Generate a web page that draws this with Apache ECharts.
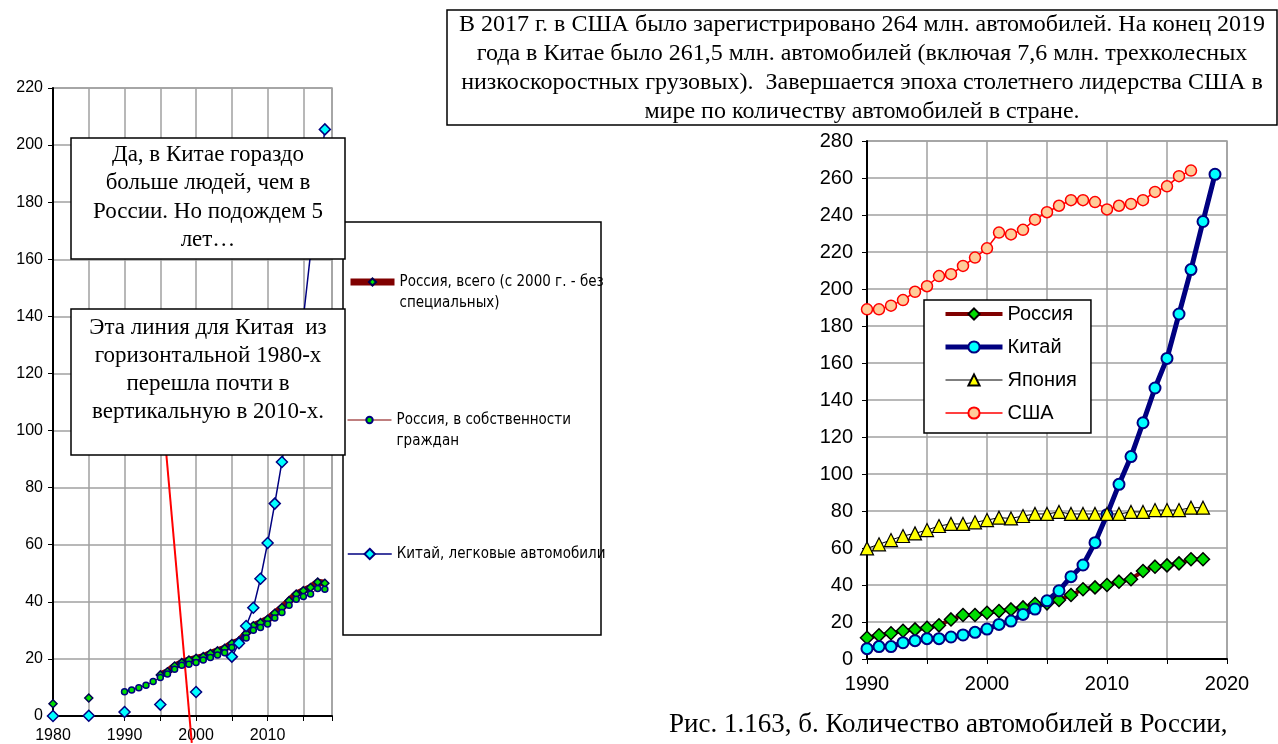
<!DOCTYPE html>
<html>
<head>
<meta charset="utf-8">
<script src="https://cdn.jsdelivr.net/npm/echarts@6/dist/echarts.min.js"></script>
<style>
  html, body { margin: 0; padding: 0; background: #fff; }
  #main { width: 1278px; height: 744px; }
</style>
</head>
<body>
<div id="main"></div>
<script>
// ---- left chart (1980-2018) ----
var leftYears = [1980, 1981, 1982, 1983, 1984, 1985, 1986, 1987, 1988, 1989,
  1990, 1991, 1992, 1993, 1994, 1995, 1996, 1997, 1998, 1999,
  2000, 2001, 2002, 2003, 2004, 2005, 2006, 2007, 2008, 2009,
  2010, 2011, 2012, 2013, 2014, 2015, 2016, 2017, 2018];
var ruTotal = [4.3, null, null, null, null, 6.3, null, null, null, null,
  null, null, null, null, null, 14.4, 15.5, 17.5, 18.7, 19.6,
  20.2, 20.8, 21.9, 22.8, 23.7, 25.4, 26.3, 28.9, 31.6, 32.7,
  33.9, 36.0, 38.0, 40.4, 42.7, 43.9, 45.0, 46.9, 46.5];
var ruOwn = [null, null, null, null, null, null, null, null, null, null,
  8.5, 9.1, 9.9, 10.8, 12.1, 13.5, 14.7, 16.4, 17.8, 18.1,
  18.7, 19.6, 20.5, 21.4, 22.2, 24.0, 25.1, 27.3, 30.0, 31.0,
  32.2, 34.3, 36.3, 38.8, 40.9, 41.9, 42.7, 44.7, 44.4];
var cnCars = [0, null, null, null, null, 0.1, null, null, null, null,
  1.4, null, null, null, null, 4.0, null, null, null, null,
  8.4, null, null, null, null, 20.8, 25.5, 31.5, 37.9, 48.1,
  60.6, 74.4, 89, 105, 123, 139.5, 162, 184, 205.5];
var trendX = [1995, 1999.4];
var trendY = [115.6, -9.4];

// ---- right chart (1990-2019) ----
var rightYears = [1990, 1991, 1992, 1993, 1994, 1995, 1996, 1997, 1998, 1999,
  2000, 2001, 2002, 2003, 2004, 2005, 2006, 2007, 2008, 2009,
  2010, 2011, 2012, 2013, 2014, 2015, 2016, 2017, 2018, 2019];
var ruR = [11.5, 12.8, 13.9, 15.3, 16.0, 16.9, 18.2, 21.4, 23.8, 23.8,
  25.0, 25.9, 26.8, 27.9, 29.7, 30.1, 31.9, 34.6, 37.7, 38.7,
  40.0, 41.8, 43.1, 47.6, 49.9, 50.6, 51.7, 53.9, 53.9, null];
var cnR = [5.6, 6.7, 6.7, 8.8, 9.9, 11, 11, 11.9, 13, 14.4,
  16.2, 18.7, 20.5, 24.1, 27, 31.5, 36.9, 44.5, 50.8, 62.9,
  78, 94.4, 109.4, 127.7, 146.5, 162.5, 186.5, 210.5, 236.5, 262];
var jpR = [59.8, 62, 64.3, 66.5, 67.9, 69.7, 71.9, 73, 73, 73.9,
  75.1, 76.4, 76, 77.3, 78.4, 78.4, 79.5, 78.4, 78.4, 78.4,
  78.4, 78.4, 79.5, 79.5, 80.5, 80.5, 80.5, 81.8, 81.8, null];
var usR = [189, 189, 191, 194, 198.5, 201.5, 207, 208, 212.5, 217,
  222, 230.5, 229.5, 232, 237.5, 241.5, 245, 248, 248, 247,
  243, 245, 246, 248, 252.5, 255.5, 261, 264, null, null];

var leftNames = ["Россия, всего (с 2000 г. - без специальных)", "Россия, в собственности граждан", "Китай, легковые автомобили"];
var leftLabels = ["Россия, всего (с 2000 г. - без\nспециальных)", "Россия, в собственности\nграждан", "Китай, легковые автомобили"];
var rightNames = ["Россия", "Китай", "Япония", "США"];

var topNote = "В 2017 г. в США было зарегистрировано 264 млн. автомобилей. На конец 2019\n" +
  "года в Китае было 261,5 млн. автомобилей (включая 7,6 млн. трехколесных\n" +
  "низкоскоростных грузовых).  Завершается эпоха столетнего лидерства США в\n" +
  "мире по количеству автомобилей в стране.";
var note1 = "Да, в Китае гораздо\nбольше людей, чем в\nРоссии. Но подождем 5\nлет…";
var note2 = "Эта линия для Китая  из\nгоризонтальной 1980-х\nперешла почти в\nвертикальную в 2010-х.";
var caption = "Рис. 1.163, б. Количество автомобилей в России,";

function pairs(xs, ys) {
  return xs.map(function (x, i) { return [x, ys[i]]; });
}

var SANS = "'Liberation Sans', Arial, sans-serif";
var NARROW = "'Liberation Sans Narrow', 'Arial Narrow', 'DejaVu Sans Condensed', sans-serif";
var SERIF = "'Liberation Serif', 'Times New Roman', serif";
var GRIDC = "#a0a0a0";

function decade(v) { return v % 10 === 0 ? String(v) : ""; }

// одна легенда на каждую строку, чтобы значок стоял у первой строки текста
function leftLegend(i, top, itemH, twoLines) {
  return {
    show: true,
    orient: "vertical",
    left: 347,
    top: top,
    padding: 0,
    itemWidth: 44,
    itemHeight: itemH,
    data: [leftNames[i]],
    formatter: function () { return (twoLines ? "\n" : "") + leftLabels[i]; },
    lineStyle: { width: "inherit" },
    textStyle: { fontFamily: NARROW, fontSize: 15, color: "#000", lineHeight: 21 }
  };
}

var myChart = echarts.init(document.getElementById("main"), null, { renderer: "canvas" });

var option = {
  animation: false,
  backgroundColor: "#fff",
  grid: [
    { left: 53, top: 88, width: 279, height: 629, show: true, borderColor: GRIDC, borderWidth: 1.5 },
    { left: 867, top: 141, width: 360, height: 518, show: true, borderColor: GRIDC, borderWidth: 1.5 }
  ],
  xAxis: [
    {
      type: "value", gridIndex: 0, min: 1980, max: 2019, interval: 5,
      axisLine: { lineStyle: { color: "#000", width: 2 } },
      axisTick: { show: true, length: 5, lineStyle: { color: "#000" } },
      axisLabel: { formatter: decade, fontFamily: SANS, fontSize: 16, color: "#000", margin: 12 },
      splitLine: { lineStyle: { color: GRIDC, width: 1.5 } }
    },
    {
      type: "value", gridIndex: 1, min: 1990, max: 2020, interval: 5,
      axisLine: { lineStyle: { color: "#000", width: 2 } },
      axisTick: { show: true, length: 5, lineStyle: { color: "#000" } },
      axisLabel: { formatter: decade, fontFamily: SANS, fontSize: 20, color: "#000", margin: 15 },
      splitLine: { lineStyle: { color: GRIDC, width: 1.5 } }
    }
  ],
  yAxis: [
    {
      type: "value", gridIndex: 0, min: 0, max: 220, interval: 20,
      axisLine: { show: true, lineStyle: { color: "#000", width: 2 } },
      axisTick: { show: true, length: 5, lineStyle: { color: "#000" } },
      axisLabel: { fontFamily: SANS, fontSize: 16, color: "#000", margin: 10 },
      splitLine: { lineStyle: { color: GRIDC, width: 1.5 } }
    },
    {
      type: "value", gridIndex: 1, min: 0, max: 280, interval: 20,
      axisLine: { show: true, lineStyle: { color: "#000", width: 2 } },
      axisTick: { show: true, length: 5, lineStyle: { color: "#000" } },
      axisLabel: { fontFamily: SANS, fontSize: 20, color: "#000", margin: 14 },
      splitLine: { lineStyle: { color: GRIDC, width: 1.5 } }
    }
  ],
  legend: [
    leftLegend(0, 250.5, 9, true),
    leftLegend(1, 388.5, 8, true),
    leftLegend(2, 543.5, 13, false),
    {
      show: true,
      orient: "vertical",
      left: 924,
      top: 300,
      padding: [3, 14, 9, 19],
      itemGap: 11,
      itemWidth: 57,
      itemHeight: 14,
      borderColor: "#000",
      borderWidth: 1.5,
      backgroundColor: "#fff",
      data: rightNames,
      lineStyle: { width: "inherit" },
      textStyle: { fontFamily: SANS, fontSize: 20, color: "#000", lineHeight: 22 }
    }
  ],
  series: [
    // левый график
    {
      name: leftNames[0], type: "line", xAxisIndex: 0, yAxisIndex: 0,
      data: pairs(leftYears, ruTotal),
      symbol: "diamond", symbolSize: 8,
      lineStyle: { color: "#800000", width: 7 },
      itemStyle: { color: "#00e000", borderColor: "#000050", borderWidth: 1.5 }
    },
    {
      name: leftNames[1], type: "line", xAxisIndex: 0, yAxisIndex: 0,
      data: pairs(leftYears, ruOwn),
      symbol: "circle", symbolSize: 6,
      lineStyle: { color: "#800000", width: 1 },
      itemStyle: { color: "#00e000", borderColor: "#000080", borderWidth: 1.5 }
    },
    {
      name: leftNames[2], type: "line", xAxisIndex: 0, yAxisIndex: 0,
      data: pairs(leftYears, cnCars),
      symbol: "diamond", symbolSize: 11,
      lineStyle: { color: "#000080", width: 1.5 },
      itemStyle: { color: "#00ffff", borderColor: "#000080", borderWidth: 1.5 }
    },
    {
      name: "trend", type: "line", xAxisIndex: 0, yAxisIndex: 0,
      data: pairs(trendX, trendY), clip: false, silent: true,
      symbol: "none", lineStyle: { color: "#ff0000", width: 2 }, z: 1
    },
    // правый график
    {
      name: rightNames[0], type: "line", xAxisIndex: 1, yAxisIndex: 1,
      data: pairs(rightYears, ruR),
      symbol: "diamond", symbolSize: 13,
      lineStyle: { color: "#800000", width: 4 },
      itemStyle: { color: "#00dd00", borderColor: "#000", borderWidth: 1.5 }
    },
    {
      name: rightNames[1], type: "line", xAxisIndex: 1, yAxisIndex: 1,
      data: pairs(rightYears, cnR),
      symbol: "circle", symbolSize: 11,
      lineStyle: { color: "#000080", width: 5 },
      itemStyle: { color: "#00ffff", borderColor: "#000080", borderWidth: 2 }
    },
    {
      name: rightNames[2], type: "line", xAxisIndex: 1, yAxisIndex: 1,
      data: pairs(rightYears, jpR),
      symbol: "triangle", symbolSize: 13,
      lineStyle: { color: "#000", width: 1 },
      itemStyle: { color: "#ffff00", borderColor: "#000", borderWidth: 1.2 }
    },
    {
      name: rightNames[3], type: "line", xAxisIndex: 1, yAxisIndex: 1,
      data: pairs(rightYears, usR),
      symbol: "circle", symbolSize: 11,
      lineStyle: { color: "#ff0000", width: 1.5 },
      itemStyle: { color: "#ffcc99", borderColor: "#ff0000", borderWidth: 1.5 }
    }
  ],
  graphic: [
    // рамка легенды слева
    { type: "rect", z: 3, shape: { x: 343, y: 222, width: 258, height: 413 },
      style: { fill: "#fff", stroke: "#000", lineWidth: 1.5 } },
    // текст сверху
    { type: "rect", z: 100, shape: { x: 447, y: 10, width: 830, height: 115 },
      style: { fill: "#fff", stroke: "#000", lineWidth: 1.5 } },
    { type: "text", z: 101, x: 862, y: 68,
      style: { text: topNote, fontFamily: SERIF, fontSize: 24, lineHeight: 29, fill: "#000",
        align: "center", verticalAlign: "middle" } },
    // подписи на левом графике
    { type: "rect", z: 100, shape: { x: 71, y: 138, width: 274, height: 121 },
      style: { fill: "#fff", stroke: "#000", lineWidth: 1.5 } },
    { type: "text", z: 101, x: 208, y: 197.5,
      style: { text: note1, fontFamily: SERIF, fontSize: 23, lineHeight: 28.3, fill: "#000",
        align: "center", verticalAlign: "middle" } },
    { type: "rect", z: 100, shape: { x: 71, y: 309, width: 274, height: 146 },
      style: { fill: "#fff", stroke: "#000", lineWidth: 1.5 } },
    { type: "text", z: 101, x: 208, y: 370,
      style: { text: note2, fontFamily: SERIF, fontSize: 23, lineHeight: 28, fill: "#000",
        align: "center", verticalAlign: "middle" } },
    // подпись рисунка
    { type: "text", z: 101, x: 669, y: 724.5,
      style: { text: caption, fontFamily: SERIF, fontSize: 27, fill: "#000",
        align: "left", verticalAlign: "middle" } }
  ]
};

myChart.setOption(option);
</script>
</body>
</html>
